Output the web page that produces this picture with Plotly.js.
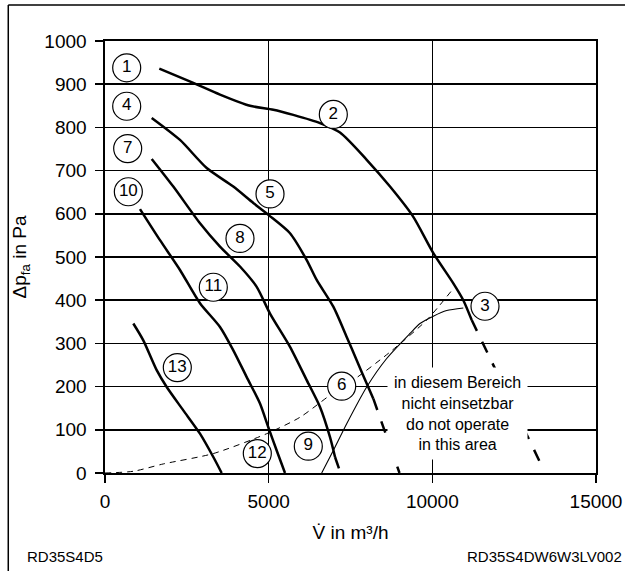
<!DOCTYPE html>
<html>
<head>
<meta charset="utf-8">
<script src="https://cdn.plot.ly/plotly-3.0.1.min.js"></script>
<style>
html,body{margin:0;padding:0;background:#fff;}
#chart{width:625px;height:571px;}
</style>
</head>
<body>
<div id="chart"></div>
<script>
// Curve 1-2-3 (solid part and dashed continuation)
var c1X = [1659, 2698, 3513, 4430, 5142, 5753, 6568, 7179, 7995, 8707, 9409, 10030, 10641, 10946, 11203];
var c1Y = [936, 903, 876, 850, 841, 829, 810, 788, 725, 663, 594, 509, 439, 400, 354];
var c1dX = [11203, 13289];
var c1dY = [354, 25];
// Curve 4-5-6
var c4X = [1427, 2291, 3107, 3920, 4531, 5001, 5652, 6162, 6467, 6975, 7384, 7689, 7995, 8197];
var c4Y = [822, 771, 706, 663, 625, 597, 555, 493, 447, 385, 315, 261, 207, 172];
var c4dX = [8197, 8997];
var c4dY = [172, 0];
// Curve 7-8-9
var c7X = [1427, 2087, 2902, 3513, 4124, 4634, 5041, 5652, 6162, 6568, 6874, 7027];
var c7Y = [727, 663, 578, 524, 478, 431, 369, 292, 215, 153, 83, 37];
var c7dX = [7027, 7195];
var c7dY = [37, 0];
// Curve 10-11-12
var c10X = [1069, 1680, 2291, 2902, 3513, 3920, 4329, 4735, 4989, 5245, 5499];
var c10Y = [611, 539, 470, 393, 338, 284, 222, 161, 106, 52, 0];
// Curve 13
var c13X = [865, 1170, 1579, 1885, 2392, 2902, 3309, 3565];
var c13Y = [346, 307, 238, 199, 145, 91, 37, 0];
// Thin limit curve
var limX = [6620, 6975, 7384, 7995, 8606, 9318, 9623, 10030, 10439, 10946];
var limY = [0, 52, 114, 199, 265, 323, 346, 363, 376, 382];
// Thin dashed system curve
var sysX = [0, 865, 1781, 3309, 4940, 5957, 6874, 7585, 8707, 9828, 10641];
var sysY = [0, 4, 21, 45, 91, 129, 180, 215, 280, 354, 427];
// Circled labels
var labelText = ["1", "2", "3", "4", "5", "6", "7", "8", "9", "10", "11", "12", "13"];
var labelX = [663, 6975, 11609, 663, 5041, 7231, 693, 4124, 6211, 713, 3309, 4653, 2209];
var labelY = [938, 830, 386, 849, 646, 201, 751, 543, 62, 651, 430, 45, 244];
// Ticks
var yTicks = [0, 100, 200, 300, 400, 500, 600, 700, 800, 900, 1000];
var xTicks = [0, 5000, 10000, 15000];

var FONT = "Liberation Sans, Arial, sans-serif";
var thick = {color: "#000", width: 2.5, shape: "spline", smoothing: 0.7};
var thickDash = {color: "#000", width: 2.5, dash: "12px,12px"};

function ln(x, y, line) {
  return {x: x, y: y, type: "scatter", mode: "lines", line: line, hoverinfo: "skip", showlegend: false};
}

var traces = [
  ln(sysX, sysY, {color: "#000", width: 1, dash: "6px,5px", shape: "spline", smoothing: 0.7}),
  ln(limX, limY, {color: "#000", width: 1.1, shape: "spline", smoothing: 0.7}),
  ln(c1X, c1Y, thick), ln(c1dX, c1dY, thickDash),
  ln(c4X, c4Y, thick), ln(c4dX, c4dY, thickDash),
  ln(c7X, c7Y, thick), ln(c7dX, c7dY, thickDash),
  ln(c10X, c10Y, thick),
  ln(c13X, c13Y, thick),
  {
    x: labelX, y: labelY, text: labelText, type: "scatter", mode: "markers+text",
    textposition: "middle center",
    textfont: {family: FONT, size: 17, color: "#000"},
    marker: {symbol: "circle", size: 28, color: "#fff", line: {color: "#000", width: 1.2}},
    hoverinfo: "skip", showlegend: false, cliponaxis: false
  }
];

var layout = {
  width: 625, height: 571,
  margin: {l: 105, r: 29, t: 41, b: 98},
  paper_bgcolor: "#fff", plot_bgcolor: "#fff",
  font: {family: FONT, color: "#000"},
  showlegend: false,
  xaxis: {
    range: [0, 15000], tickvals: xTicks, ticktext: xTicks.map(String),
    showgrid: true, gridcolor: "#000", gridwidth: 1.6,
    zeroline: false, showline: true, mirror: true, linecolor: "#000", linewidth: 1.6,
    ticks: "outside", ticklen: 8, tickwidth: 1.6, tickcolor: "#000",
    tickfont: {family: FONT, size: 19, color: "#000"},
    ticklabelstandoff: 3,
    title: {text: "V\u0307 in m³/h", font: {family: FONT, size: 19, color: "#000"}, standoff: 14}
  },
  yaxis: {
    range: [0, 1000], tickvals: yTicks, ticktext: yTicks.map(String),
    showgrid: true, gridcolor: "#000", gridwidth: 1.6,
    zeroline: false, showline: true, mirror: true, linecolor: "#000", linewidth: 1.6,
    ticks: "outside", ticklen: 8, tickwidth: 1.6, tickcolor: "#000",
    tickfont: {family: FONT, size: 19, color: "#000"},
    ticklabelstandoff: 5,
    title: {text: "\u0394p<sub>fa</sub> in Pa", font: {family: FONT, size: 19, color: "#000"}, standoff: 12}
  },
  shapes: [
    {type: "line", xref: "paper", yref: "paper", x0: -0.197, y0: 1.0833, x1: 1.07, y1: 1.0833, line: {color: "#000", width: 1.5}},
    {type: "line", xref: "paper", yref: "paper", x0: -0.197, y0: 1.0833, x1: -0.197, y1: -0.24, line: {color: "#000", width: 1.5}}
  ],
  annotations: [
    {x: 10769, y: 138, xref: "x", yref: "y", showarrow: false,
     text: "in diesem Bereich<br>nicht einsetzbar<br>do not operate<br>in this area",
     font: {family: FONT, size: 16, color: "#000"}, bgcolor: "#fff", borderpad: 6, align: "center"},
    {x: -0.163, y: -0.194, xref: "paper", yref: "paper", xanchor: "left", yanchor: "middle", showarrow: false,
     text: "RD35S4D5", font: {family: FONT, size: 15, color: "#000"}},
    {x: 1.057, y: -0.194, xref: "paper", yref: "paper", xanchor: "right", yanchor: "middle", showarrow: false,
     text: "RD35S4DW6W3LV002", font: {family: FONT, size: 15, color: "#000"}}
  ]
};

Plotly.newPlot("chart", traces, layout, {staticPlot: true, displayModeBar: false});
</script>
</body>
</html>
